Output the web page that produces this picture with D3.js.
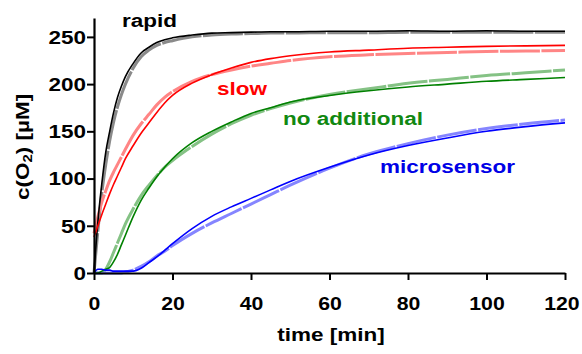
<!DOCTYPE html>
<html>
<head>
<meta charset="utf-8">
<script src="https://cdn.jsdelivr.net/npm/d3@7"></script>
<style>
  body { margin: 0; background: #fff; }
  text { font-family: "Liberation Sans", Arial, sans-serif; font-weight: bold; }
</style>
</head>
<body>
<svg id="chart" width="582" height="354"></svg>
<script>
// time grid [min] shared by all curves
const times = [0, 1, 2, 3, 4, 5, 6, 7, 8, 10, 12, 14, 16, 18, 20, 25, 30, 35, 40, 45, 50, 60, 70, 80, 90, 100, 110, 120];

// measured c(O2) [uM]
const rapidMeas = [0, 55, 95, 128, 150, 170, 186, 198, 208, 222, 233, 239, 244, 247, 249, 252, 254, 254.5, 255, 255.5, 255.5, 256, 256, 256.5, 256, 256.5, 256, 256];
const slowMeas = [38, 50, 62, 73, 84, 94, 103, 112, 121, 135, 148, 159, 170, 180, 188, 201, 210, 217, 223, 227, 230, 234, 236, 238, 239, 240, 240.5, 241];
const noAddMeas = [0, 0, 2, 4, 6, 12, 20, 30, 40, 60, 77, 90, 102, 112, 121, 138, 150, 160, 169, 175, 181, 188, 193, 197, 200, 203, 205, 207];
const microMeas = [0, 4, 4, 3, 3, 2, 2, 2, 2, 2, 5, 11, 17, 24, 31, 47, 60, 70, 79, 88, 97, 112, 125, 135, 143, 150, 155, 159];

// model curves (dashed, lighter)
const rapidModel = [0, 45, 85, 115, 140, 160, 176, 189, 200, 217, 229, 236, 241, 244, 246, 250, 252, 253, 253.5, 254, 254, 254.5, 254.5, 255, 255, 255, 255, 255];
const slowModel = [42, 60, 75, 87, 98, 107, 115, 123, 131, 146, 158, 168, 178, 186, 192, 203, 210, 215, 219, 222, 225, 229, 231, 232.5, 233.5, 234.5, 235, 235.5];
const noAddModel = [0, 0, 0, 4, 12, 22, 32, 42, 52, 68, 82, 93, 103, 112, 119, 134, 147, 158, 167, 174, 180, 189, 195, 201, 205, 209, 212, 215];
const microModel = [0, 0, 0, 0, 0, 0, 0, 0, 1, 3, 7, 12, 18, 23, 29, 42, 53, 63, 73, 83, 93, 111, 126, 137, 146, 153, 158, 162];

const labels = ["rapid", "slow", "no additional", "microsensor"];
const xTicks = [0, 20, 40, 60, 80, 100, 120];
const yTicks = [0, 50, 100, 150, 200, 250];

const measured = [rapidMeas, slowMeas, noAddMeas, microMeas];
const models = [rapidModel, slowModel, noAddModel, microModel];
const darkColors = ["#000000", "#ff0000", "#008000", "#0000ff"];
const lightColors = ["#8a8a8a", "#ff8585", "#85c285", "#8585ff"];
const labelColors = ["#000000", "#ff0000", "#118811", "#0000e6"];
const labelPos = [[122, 27], [217, 95], [283, 125], [380, 173]];

const stretch = 1.25; // text in the figure is horizontally widened

const svg = d3.select("#chart");
const x = d3.scaleLinear().domain([0, 120]).range([94, 565]);
const y = d3.scaleLinear().domain([0, 270]).range([273, 18]);

const line = d3.line()
    .x((d, i) => x(times[i]))
    .y(d => y(d))
    .curve(d3.curveMonotoneX);

// model curves first, measured drawn on top
svg.selectAll(".model")
    .data(models)
    .enter()
    .append("path")
    .attr("class", "model")
    .attr("d", line)
    .attr("fill", "none")
    .attr("stroke", (d, i) => lightColors[i])
    .attr("stroke-width", 3)
    .attr("stroke-dasharray", "40,1.5");

svg.selectAll(".meas")
    .data(measured)
    .enter()
    .append("path")
    .attr("class", "meas")
    .attr("d", line)
    .attr("fill", "none")
    .attr("stroke", (d, i) => darkColors[i])
    .attr("stroke-width", 1.6);

// axes
const xAxis = svg.append("g")
    .attr("transform", "translate(0,273)")
    .call(d3.axisBottom(x).tickValues(xTicks).tickSize(7).tickSizeOuter(0));
const yAxis = svg.append("g")
    .attr("transform", "translate(94,0)")
    .call(d3.axisLeft(y).tickValues(yTicks).tickSize(7).tickSizeOuter(0));

[xAxis, yAxis].forEach(g => {
    g.select(".domain").attr("stroke", "#000").attr("stroke-width", 2.2);
    g.selectAll(".tick line").attr("stroke", "#000").attr("stroke-width", 2);
    g.selectAll(".tick text")
        .attr("fill", "#000")
        .style("font-size", "18px")
        .style("font-family", "'Liberation Sans', Arial, sans-serif")
        .style("font-weight", "bold");
});
// keep the last x label inside the window
xAxis.selectAll(".tick text").attr("y", 37).attr("dy", 0)
    .attr("x", d => d === 120 ? -3 : 0)
    .attr("transform", "scale(1.18,1)");
yAxis.selectAll(".tick text").attr("x", -8 / stretch).attr("dy", "0.35em")
    .attr("transform", `scale(${stretch},1)`);

// axis titles
svg.append("text")
    .attr("transform", `translate(331,341) scale(${stretch},1)`)
    .attr("text-anchor", "middle")
    .style("font-size", "18px")
    .text("time [min]");

const yTitle = svg.append("text")
    .attr("transform", `translate(29,147) rotate(-90) scale(${stretch},1)`)
    .attr("text-anchor", "middle")
    .style("font-size", "18px");
yTitle.append("tspan").text("c(O");
yTitle.append("tspan").attr("baseline-shift", "-22%").style("font-size", "12px").text("2");
yTitle.append("tspan").text(") [µM]");

// curve labels
svg.selectAll(".lbl")
    .data(labels)
    .enter()
    .append("text")
    .attr("class", "lbl")
    .attr("transform", (d, i) => `translate(${labelPos[i][0]},${labelPos[i][1]}) scale(${stretch},1)`)
    .attr("fill", (d, i) => labelColors[i])
    .style("font-size", "18px")
    .text(d => d);
</script>
</body>
</html>
